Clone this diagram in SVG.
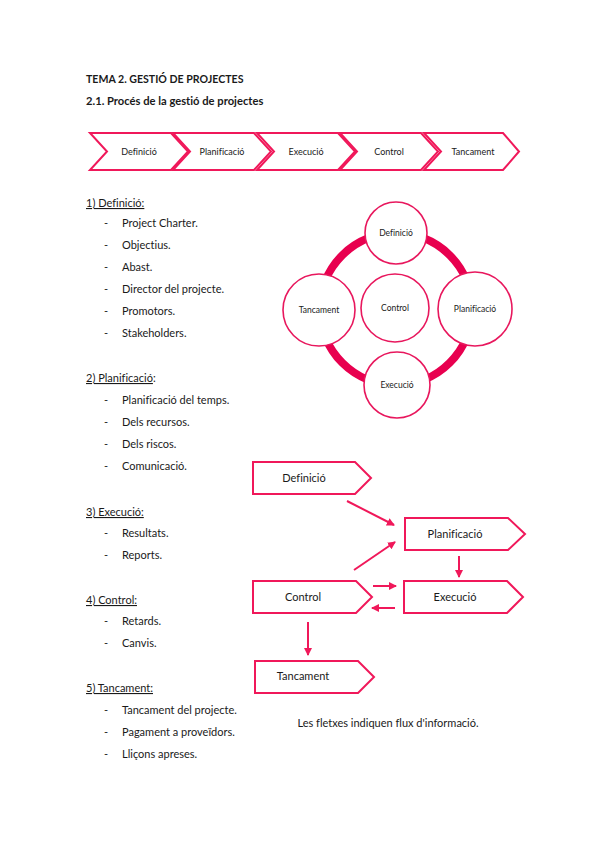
<svg xmlns="http://www.w3.org/2000/svg" width="599" height="848" viewBox="0 0 599 848">
<style>
text{font-family:Lato,"Liberation Sans",sans-serif;fill:#1a1a1a;font-variant-ligatures:none}
.h{font-weight:bold;font-size:10.6px}
.h2{font-weight:bold;font-size:11.2px}
.t{font-size:11px}
.u{text-decoration:underline}
.ch{fill:#fff;stroke:#f0185a;stroke-width:2;stroke-linejoin:miter}
.cl{font-size:9px;text-anchor:middle}
.ci{fill:#fff;stroke:#e8175d;stroke-width:1.6}
.cc{font-size:8.5px;text-anchor:middle}
.pg{fill:#fff;stroke:#f0185a;stroke-width:2}
.fl{font-size:11px;text-anchor:middle}
.ar{stroke:#f0185a;stroke-width:2;fill:none;marker-end:url(#ah)}
</style>
<defs>
<marker id="ah" markerWidth="9" markerHeight="9" refX="7" refY="4.5" orient="auto" markerUnits="userSpaceOnUse">
<path d="M0,0.5 L8,4.5 L0,8.5 Z" fill="#f0185a"/>
</marker>
</defs>
<rect width="599" height="848" fill="#fff"/>

<text class="h" x="86" y="83">TEMA 2. GESTIÓ DE PROJECTES</text>
<text class="h2" x="86" y="105">2.1. Procés de la gestió de projectes</text>

<g id="chevrons">
<g id="ch1"><polygon class="ch" points="90,133 171,133 188,151.5 171,170 90,170 107,151.5"/><text class="cl" x="139" y="155">Definició</text></g>
<g id="ch2"><polygon class="ch" points="173,133 254,133 271,151.5 254,170 173,170 190,151.5"/><text class="cl" x="222" y="155">Planificació</text></g>
<g id="ch3"><polygon class="ch" points="257,133 338,133 355,151.5 338,170 257,170 274,151.5"/><text class="cl" x="306" y="155">Execució</text></g>
<g id="ch4"><polygon class="ch" points="340,133 421,133 438,151.5 421,170 340,170 357,151.5"/><text class="cl" x="389" y="155">Control</text></g>
<g id="ch5"><polygon class="ch" points="424,133 503,133 519,151.5 503,170 424,170 441,151.5"/><text class="cl" x="473" y="155">Tancament</text></g>
</g>

<g id="list">
<text class="t" x="86" y="207"><tspan class="u">1) Definició:</tspan></text>
<text class="t" x="104" y="227">-</text><text class="t" x="122" y="227">Project Charter.</text>
<text class="t" x="104" y="249">-</text><text class="t" x="122" y="249">Objectius.</text>
<text class="t" x="104" y="271">-</text><text class="t" x="122" y="271">Abast.</text>
<text class="t" x="104" y="293">-</text><text class="t" x="122" y="293">Director del projecte.</text>
<text class="t" x="104" y="315">-</text><text class="t" x="122" y="315">Promotors.</text>
<text class="t" x="104" y="337">-</text><text class="t" x="122" y="337">Stakeholders.</text>

<text class="t" x="86" y="382"><tspan class="u">2) Planificació</tspan>:</text>
<text class="t" x="104" y="404">-</text><text class="t" x="122" y="404">Planificació del temps.</text>
<text class="t" x="104" y="426">-</text><text class="t" x="122" y="426">Dels recursos.</text>
<text class="t" x="104" y="448">-</text><text class="t" x="122" y="448">Dels riscos.</text>
<text class="t" x="104" y="470">-</text><text class="t" x="122" y="470">Comunicació.</text>

<text class="t" x="86" y="516"><tspan class="u">3) Execució:</tspan></text>
<text class="t" x="104" y="537">-</text><text class="t" x="122" y="537">Resultats.</text>
<text class="t" x="104" y="559">-</text><text class="t" x="122" y="559">Reports.</text>

<text class="t" x="86" y="604"><tspan class="u">4) Control:</tspan></text>
<text class="t" x="104" y="625">-</text><text class="t" x="122" y="625">Retards.</text>
<text class="t" x="104" y="647">-</text><text class="t" x="122" y="647">Canvis.</text>

<text class="t" x="86" y="692"><tspan class="u">5) Tancament:</tspan></text>
<text class="t" x="104" y="714">-</text><text class="t" x="122" y="714">Tancament del projecte.</text>
<text class="t" x="104" y="736">-</text><text class="t" x="122" y="736">Pagament a proveïdors.</text>
<text class="t" x="104" y="758">-</text><text class="t" x="122" y="758">Lliçons apreses.</text>
</g>

<g id="cycle">
<circle cx="396" cy="309" r="76" fill="none" stroke="#e8004f" stroke-width="8"/>
<g id="c-control"><circle class="ci" cx="395" cy="308" r="34"/><text class="cc" x="395" y="311">Control</text></g>
<g id="c-definicio"><circle class="ci" cx="396" cy="233" r="31"/><text class="cc" x="396" y="236">Definició</text></g>
<g id="c-planificacio"><circle class="ci" cx="475" cy="309" r="37"/><text class="cc" x="475" y="312">Planificació</text></g>
<g id="c-tancament"><circle class="ci" cx="319" cy="310" r="36"/><text class="cc" x="319" y="313">Tancament</text></g>
<g id="c-execucio"><circle class="ci" cx="397" cy="385" r="33"/><text class="cc" x="397" y="388">Execució</text></g>
</g>

<g id="flow-nodes">
<g id="f-definicio"><polygon class="pg" points="253,462 355,462 371,478 355,494 253,494"/><text class="fl" x="304" y="482">Definició</text></g>
<g id="f-planificacio"><polygon class="pg" points="405,518 508,518 525,534 508,550 405,550"/><text class="fl" x="455" y="538">Planificació</text></g>
<g id="f-control"><polygon class="pg" points="253,581 356,581 372,597 356,613 253,613"/><text class="fl" x="303" y="601">Control</text></g>
<g id="f-execucio"><polygon class="pg" points="404,581 507,581 523,597 507,613 404,613"/><text class="fl" x="455" y="601">Execució</text></g>
<g id="f-tancament"><polygon class="pg" points="255,661 358,661 374,677 358,693 255,693"/><text class="fl" x="303" y="680">Tancament</text></g>
</g>

<g id="connectors">
<line class="ar" x1="347" y1="501" x2="394" y2="525"/>
<line class="ar" x1="354" y1="570" x2="395" y2="542"/>
<line class="ar" x1="459" y1="556" x2="459" y2="577"/>
<line class="ar" x1="373" y1="586" x2="396" y2="586"/>
<line class="ar" x1="395" y1="608" x2="372" y2="608"/>
<line class="ar" x1="308" y1="622" x2="308" y2="655"/>
</g>

<text class="t" x="388" y="727" text-anchor="middle">Les fletxes indiquen flux d'informació.</text>
</svg>
